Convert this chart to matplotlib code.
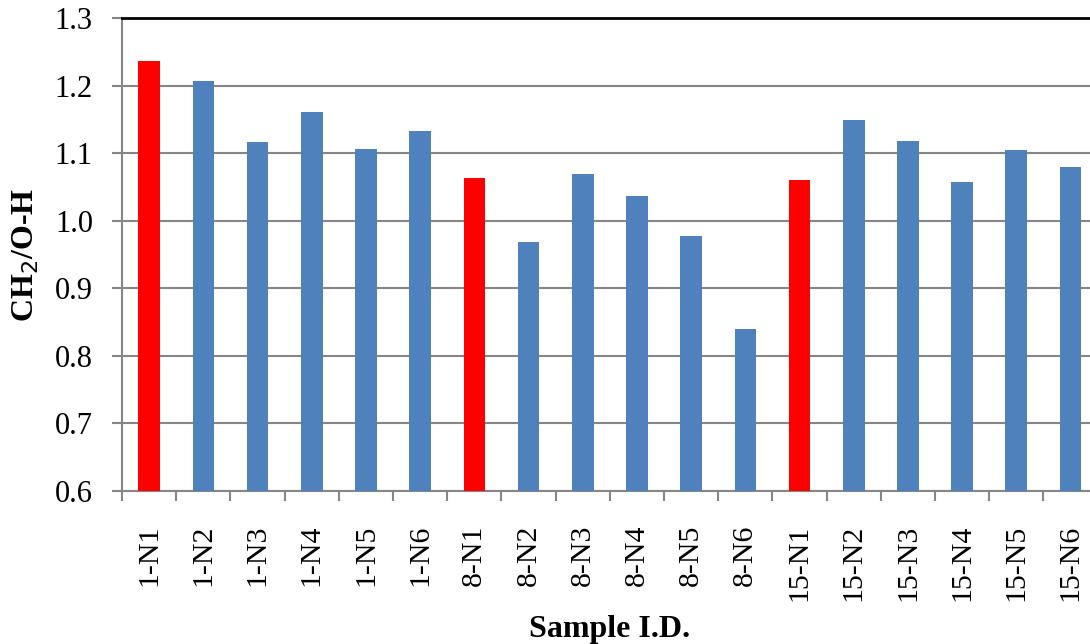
import numpy as np
import matplotlib
matplotlib.use('Agg')
import matplotlib.pyplot as plt

samples = ['1-N1', '1-N2', '1-N3', '1-N4', '1-N5', '1-N6',
           '8-N1', '8-N2', '8-N3', '8-N4', '8-N5', '8-N6',
           '15-N1', '15-N2', '15-N3', '15-N4', '15-N5', '15-N6']
ratio = [1.236, 1.207, 1.116, 1.161, 1.106, 1.133,
         1.063, 0.969, 1.069, 1.037, 0.978, 0.840,
         1.060, 1.149, 1.118, 1.057, 1.105, 1.079]
# first sample of each series is highlighted
highlight = ['1-N1', '8-N1', '15-N1']

blue = '#4F81BD'
red = '#FF0000'
grid_col = '#868686'

plt.rcParams['font.family'] = ['Liberation Serif', 'DejaVu Serif']

fig = plt.figure(figsize=(10.9, 6.44), dpi=100)
ax = fig.add_axes([0.112, 0.2376, 0.895, 0.7344])

x = np.arange(len(samples))
colors = [red if s in highlight else blue for s in samples]
ax.bar(x, ratio, width=0.4, color=colors, zorder=3)

ax.set_xlim(-0.5, len(samples) - 0.5)
ax.set_ylim(0.6, 1.3)
ax.set_yticks(np.arange(0.6, 1.31, 0.1))
ax.set_yticklabels(['%.1f' % v for v in np.arange(0.6, 1.31, 0.1)])
ax.yaxis.grid(True, color=grid_col, linewidth=1.5, zorder=0)

ax.set_xticks(x)
ax.set_xticklabels(samples, rotation=90)
ax.set_xticks(np.arange(-0.5, len(samples), 1), minor=True)
ax.tick_params(axis='x', which='major', length=0, pad=24, labelsize=21.5)
ax.tick_params(axis='x', which='minor', length=7, width=1.5, color=grid_col)
ax.tick_params(axis='y', length=7, width=1.5, color=grid_col, pad=14, labelsize=22)

for side in ['left', 'bottom']:
    ax.spines[side].set_color(grid_col)
    ax.spines[side].set_linewidth(1.5)
ax.spines['top'].set_color('black')
ax.spines['top'].set_linewidth(2)
ax.spines['right'].set_visible(False)

ax.set_ylabel('CH$_2$/O-H', fontsize=23, fontweight='bold', labelpad=10)
ax.set_xlabel('Sample I.D.', fontsize=23, fontweight='bold', labelpad=10)

fig.savefig('out.png', dpi=100)
